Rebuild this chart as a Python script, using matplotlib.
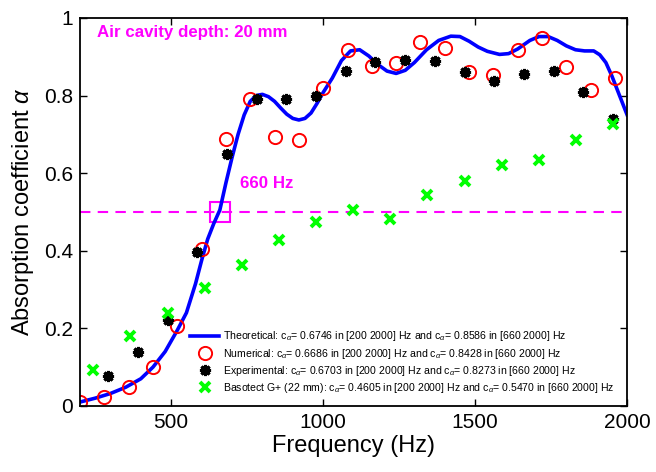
import matplotlib
matplotlib.use('Agg')
import matplotlib.pyplot as plt
import numpy as np

plt.rcParams['font.family'] = ['Liberation Sans', 'DejaVu Sans']
plt.rcParams['mathtext.fontset'] = 'custom'
plt.rcParams['mathtext.rm'] = 'Liberation Sans'
plt.rcParams['mathtext.it'] = 'Liberation Sans:italic'

##### theoretical curve
f_theo = [200, 250, 300, 350, 400, 440, 480, 520, 550, 580, 600, 620, 640, 660,
          680, 700, 720, 740, 760, 780, 800, 820, 840, 860, 880, 900, 920, 940,
          960, 980, 1000, 1030, 1060, 1090, 1120, 1150, 1180, 1210, 1240, 1270,
          1300, 1340, 1380, 1420, 1450, 1480, 1510, 1540, 1580, 1610, 1640, 1680,
          1710, 1740, 1770, 1800, 1830, 1860, 1890, 1910, 1930, 1950, 1975, 2000]
a_theo = [0.010, 0.020, 0.032, 0.048, 0.070, 0.100, 0.140, 0.195, 0.240, 0.315,
          0.375, 0.430, 0.470, 0.505, 0.575, 0.640, 0.700, 0.750, 0.785, 0.800,
          0.803, 0.797, 0.785, 0.768, 0.752, 0.741, 0.737, 0.741, 0.755, 0.780,
          0.808, 0.845, 0.890, 0.915, 0.918, 0.902, 0.880, 0.863, 0.857, 0.865,
          0.885, 0.918, 0.942, 0.953, 0.952, 0.940, 0.925, 0.914, 0.906, 0.908,
          0.920, 0.942, 0.952, 0.952, 0.942, 0.928, 0.918, 0.915, 0.915, 0.905,
          0.885, 0.850, 0.800, 0.750]

##### numerical
f_num = [200, 280, 360, 440, 520, 600, 680, 760, 840, 920, 1000, 1080, 1160,
         1240, 1320, 1400, 1480, 1560, 1640, 1720, 1800, 1880, 1960]
a_num = [0.009, 0.023, 0.050, 0.101, 0.205, 0.404, 0.687, 0.790, 0.693, 0.686,
         0.819, 0.918, 0.875, 0.885, 0.938, 0.923, 0.860, 0.853, 0.918, 0.949,
         0.873, 0.814, 0.844]

##### experimental
f_exp = [293, 391, 488, 586, 684, 781, 879, 977, 1074, 1172, 1270, 1367, 1465,
         1563, 1660, 1758, 1855, 1953]
a_exp = [0.078, 0.138, 0.221, 0.396, 0.650, 0.792, 0.790, 0.799, 0.862, 0.887,
         0.891, 0.890, 0.860, 0.838, 0.855, 0.863, 0.809, 0.739]

##### Basotect G+ (22 mm)
f_bas = [244, 366, 488, 610, 732, 854, 977, 1099, 1221, 1343, 1465, 1587, 1709,
         1831, 1953]
a_bas = [0.093, 0.180, 0.239, 0.303, 0.363, 0.427, 0.473, 0.504, 0.481, 0.544,
         0.581, 0.621, 0.634, 0.685, 0.727]

lab_theo = r'Theoretical: c$_\alpha$= 0.6746 in [200 2000] Hz and c$_\alpha$= 0.8586 in [660 2000] Hz'
lab_num = r'Numerical: c$_\alpha$= 0.6686 in [200 2000] Hz and c$_\alpha$= 0.8428 in [660 2000] Hz'
lab_exp = r'Experimental: c$_\alpha$= 0.6703 in [200 2000] Hz and c$_\alpha$= 0.8273 in [660 2000] Hz'
lab_bas = r'Basotect G+ (22 mm): c$_\alpha$= 0.4605 in [200 2000] Hz and c$_\alpha$= 0.5470 in [660 2000] Hz'

fig = plt.figure(figsize=(6.56, 4.72), dpi=100)
ax = fig.add_axes([0.122, 0.140, 0.834, 0.822])

#threshold line and 660 Hz marker
ax.plot([200, 2000], [0.5, 0.5], color='magenta', linestyle=(0, (5, 3.5)), linewidth=1.5)
ax.plot([660], [0.5], marker='s', markersize=15, markerfacecolor='none',
        markeredgecolor='magenta', markeredgewidth=1.5, linestyle='none')

l1, = ax.plot(f_theo, a_theo, color=(0, 0, 1), linewidth=2.6, label=lab_theo)
l2, = ax.plot(f_num, a_num, 'o', markersize=9.5, markerfacecolor='none',
              markeredgecolor='red', markeredgewidth=1.4, label=lab_num)
l3, = ax.plot(f_exp, a_exp, linestyle='none', marker=(8, 2, 0), markersize=8,
              markeredgecolor='black', markeredgewidth=2.2, label=lab_exp)
l4, = ax.plot(f_bas, a_bas, 'x', markersize=6.5, markeredgecolor=(0, 1, 0),
              markeredgewidth=2.8, label=lab_bas)

ax.text(256, 0.962, 'Air cavity depth: 20 mm', color='magenta', fontsize=12.2,
        fontweight='bold', va='center', ha='left')
ax.text(726, 0.572, '660 Hz', color='magenta', fontsize=12.2,
        fontweight='bold', va='center', ha='left')

ax.set_xlim(200, 2000)
ax.set_ylim(0, 1)
ax.set_xticks([500, 1000, 1500, 2000])
ax.set_yticks([0, 0.2, 0.4, 0.6, 0.8, 1])
ax.set_yticklabels(['0', '0.2', '0.4', '0.6', '0.8', '1'])
ax.tick_params(direction='in', top=True, right=True, length=5, width=1,
               labelsize=15, pad=5)
for s in ax.spines.values():
    s.set_linewidth(1.3)
ax.set_xlabel('Frequency (Hz)', fontsize=17, labelpad=2)
ax.set_ylabel(r'Absorption coefficient $\alpha$', fontsize=17, labelpad=6)

ax.legend(handles=[l1, l2, l3, l4], loc='lower left',
          bbox_to_anchor=(0.195, 0.02), frameon=False, fontsize=7.6,
          handlelength=2.8, handletextpad=0.3, labelspacing=0.3,
          borderpad=0.3, borderaxespad=0)

fig.savefig('out.png', dpi=100)
